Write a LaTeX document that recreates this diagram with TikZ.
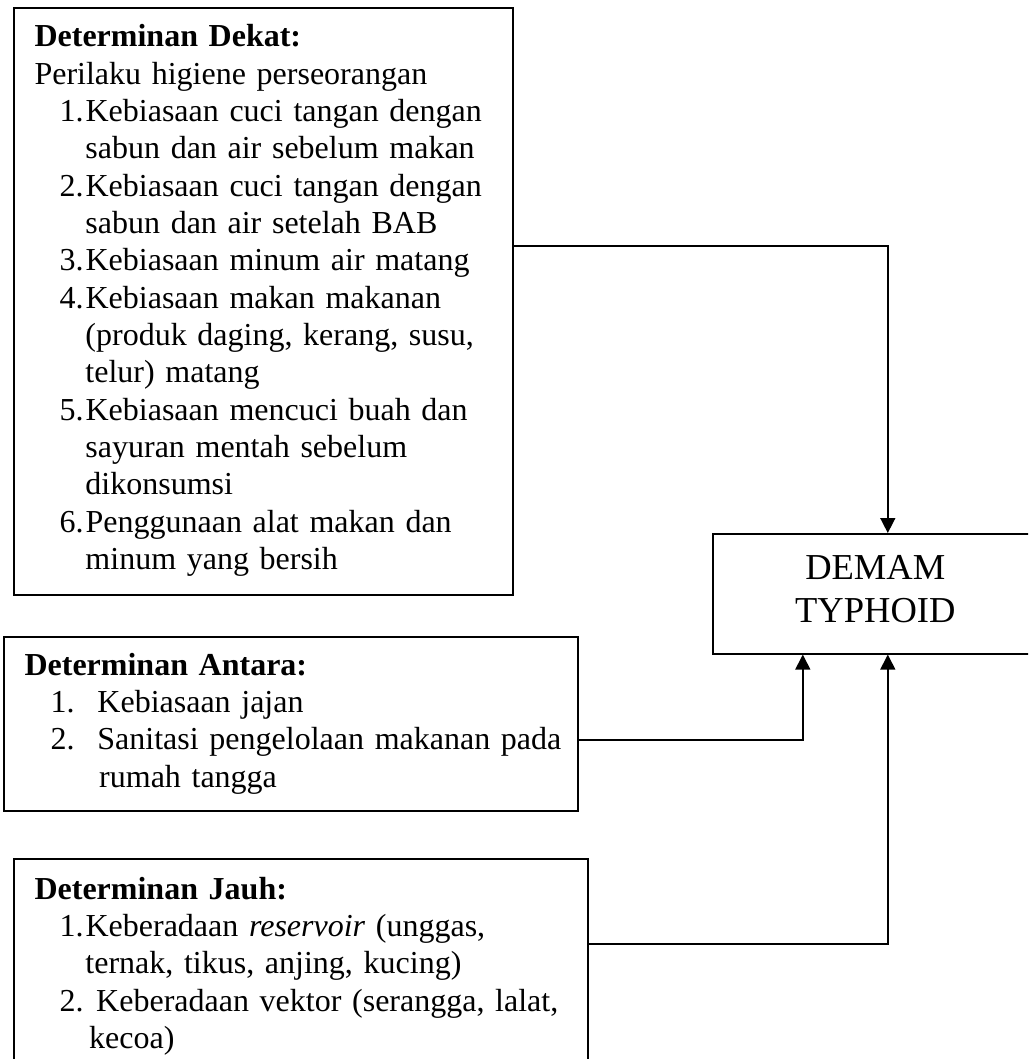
\documentclass[tikz,border=0pt]{standalone}
\usepackage{fontspec}
\setmainfont{Liberation Serif}
\usetikzlibrary{arrows.meta}
\newcommand{\nomor}[1]{\hspace*{9.4pt}\makebox[9.75pt][l]{#1}}
\newcommand{\sambung}{\hspace*{19.1pt}}
\tikzset{
  kotak/.style={draw, line width=0.6pt, inner sep=0pt, anchor=north west},
  isi/.style={anchor=base west, inner sep=0pt, align=left, text width=215pt,
    font=\fontsize{12}{14}\selectfont},
  panah/.style={line width=0.6pt, -{Triangle[width=5.6pt,length=5.6pt]}}
}

\begin{document}
\begin{tikzpicture}[x=0.375pt,y=-0.375pt]
  \useasboundingbox (0,0) rectangle (1028,1059);
  \clip (0,0) rectangle (1028,1059);
  % kotak-kotak
  \node[kotak, minimum width=187.125pt, minimum height=220.125pt] (dekat) at (13,7) {};
  \node[kotak, minimum width=215.25pt, minimum height=65.25pt] (antara) at (3,636) {};
  \node[kotak, minimum width=215.25pt, minimum height=97.5pt] (jauh) at (13,858) {};
  \node[kotak, minimum width=123pt, minimum height=45pt] (demam) at (712,533) {};
  % isi
  \node[isi] (isidekat) at ([shift={(21,40)}]dekat.north west) {%
    \textbf{Determinan Dekat:}\\
    Perilaku higiene perseorangan\\
    \nomor{1.}Kebiasaan cuci tangan dengan\\
    \sambung sabun dan air sebelum makan\\
    \nomor{2.}Kebiasaan cuci tangan dengan\\
    \sambung sabun dan air setelah BAB\\
    \nomor{3.}Kebiasaan minum air matang\\
    \nomor{4.}Kebiasaan makan makanan\\
    \sambung (produk daging, kerang, susu,\\
    \sambung telur) matang\\
    \nomor{5.}Kebiasaan mencuci buah dan\\
    \sambung sayuran mentah sebelum\\
    \sambung dikonsumsi\\
    \nomor{6.}Penggunaan alat makan dan\\
    \sambung minum yang bersih};
  \node[isi] (isiantara) at ([shift={(21,39)}]antara.north west) {%
    \textbf{Determinan Antara:}\\
    \hspace*{9.75pt}\makebox[17.6pt][l]{1.}Kebiasaan jajan\\
    \hspace*{9.75pt}\makebox[17.6pt][l]{2.}Sanitasi pengelolaan makanan pada\\
    \hspace*{28pt}rumah tangga};
  \node[isi] (isijauh) at ([shift={(21,41)}]jauh.north west) {%
    \textbf{Determinan Jauh:}\\
    \nomor{1.}Keberadaan \textit{reservoir} (unggas,\\
    \sambung ternak, tikus, anjing, kucing)\\
    \nomor{2.} Keberadaan vektor (serangga, lalat,\\
    \hspace*{20.5pt}kecoa)};
  \node[isi, anchor=base, align=center, text width=110pt,
    font=\fontsize{13.7}{16.2}\selectfont] (isidemam)
    at ([shift={(-1.5,46)}]demam.north) {DEMAM\\TYPHOID};
  % panah
  \draw[panah] ([shift={(0,-55.5)}]dekat.east) -| ([shift={(11,0)}]demam.north);
  \draw[panah] ([shift={(0,16)}]antara.east) -| ([shift={(-74,0)}]demam.south);
  \draw[panah] ([shift={(0,86)}]jauh.north east) -| ([shift={(11,0)}]demam.south);
\end{tikzpicture}
\end{document}
